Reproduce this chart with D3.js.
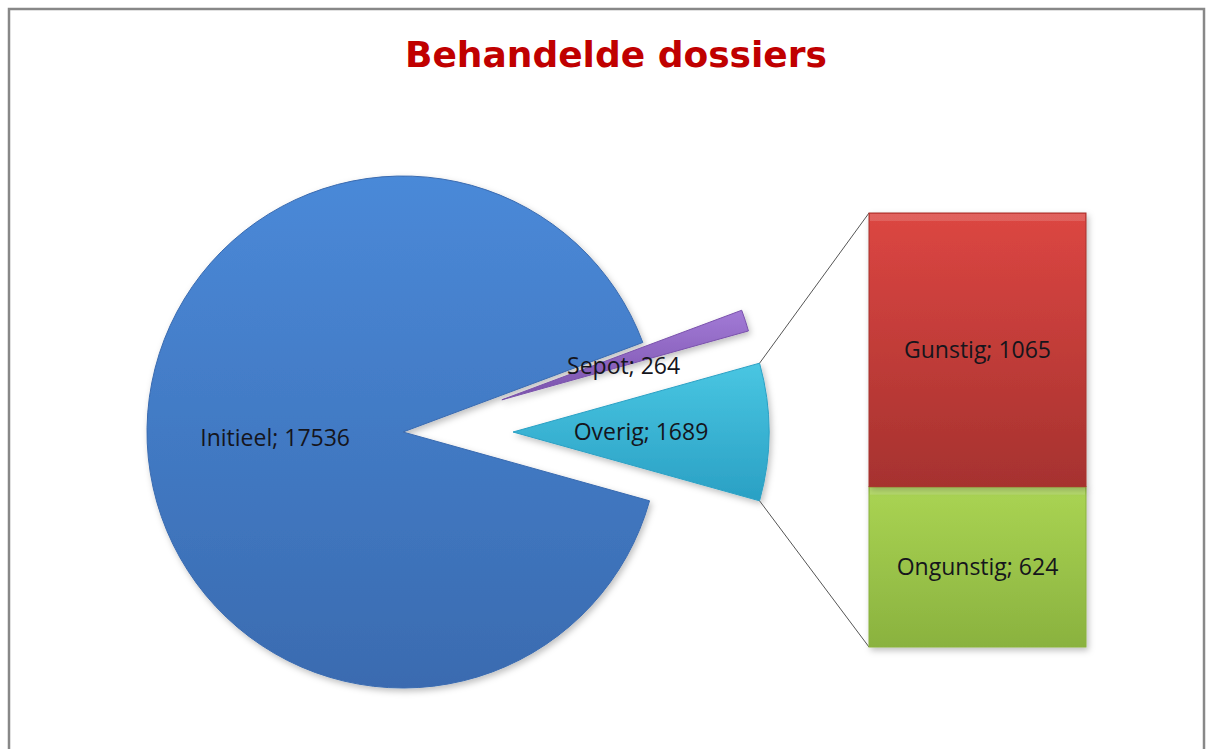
<!DOCTYPE html>
<html>
<head>
<meta charset="utf-8">
<script src="https://cdn.jsdelivr.net/npm/d3@7"></script>
<style>
  body { margin: 0; background: #fff; }
  svg text { font-family: "Open Sans", "Noto Sans", sans-serif; }
</style>
</head>
<body>
<div id="chart"></div>
<script>
const WIDTH = 1206;
const HEIGHT = 749;

// data
const pieCategories = ['Initieel', 'Sepot', 'Overig'];
const pieValues = [17536, 264, 1689];
const barCategories = ['Ongunstig', 'Gunstig'];   // bottom to top
const barValues = [624, 1065];
const titleText = 'Behandelde dossiers';

const pieColors = { Initieel: ['#4a89d8', '#3a6bb0'], Sepot: ['#a27ad6', '#7a52ac'], Overig: ['#49c6e2', '#2aa0c4'] };
const barColors = { Gunstig: ['#dc4642', '#a6322f'], Ongunstig: ['#aad453', '#8ab23f'] };

const SVG = d3.select('#chart')
    .append('svg')
    .attr('width', WIDTH)
    .attr('height', HEIGHT);

const defs = SVG.append('defs');

// vertical gradients for slices and bars
const addGrad = (id, c) => {
    const g = defs.append('linearGradient').attr('id', id)
        .attr('x1', 0).attr('y1', 0).attr('x2', 0).attr('y2', 1);
    g.append('stop').attr('offset', '0%').attr('stop-color', c[0]);
    g.append('stop').attr('offset', '100%').attr('stop-color', c[1]);
};
Object.keys(pieColors).forEach(k => addGrad('g-' + k, pieColors[k]));
Object.keys(barColors).forEach(k => addGrad('g-' + k, barColors[k]));

const shadow = defs.append('filter').attr('id', 'shadow')
    .attr('x', '-10%').attr('y', '-10%').attr('width', '130%').attr('height', '130%');
shadow.append('feDropShadow')
    .attr('dx', 2).attr('dy', 3).attr('stdDeviation', 3)
    .attr('flood-color', '#000').attr('flood-opacity', 0.25);

// frame
SVG.append('rect')
    .attr('x', 9).attr('y', 9)
    .attr('width', 1195).attr('height', 760)
    .attr('fill', 'none')
    .attr('stroke', '#888')
    .attr('stroke-width', 2.5);

// title
SVG.append('text')
    .attr('x', 616).attr('y', 67)
    .attr('text-anchor', 'middle')
    .style('font-family', '"DejaVu Sans", Verdana, sans-serif')
    .style('font-weight', 'bold')
    .style('font-size', '36px')
    .attr('fill', '#c00000')
    .text(titleText);

// pie
const cx = 403, cy = 432, R = 256;
const total = d3.sum(pieValues);
const other = pieValues[pieCategories.indexOf('Overig')];
const start = Math.PI / 2 + Math.PI * other / total;   // Overig centred on the right

const pie = d3.pie().sort(null)
    .startAngle(start).endAngle(start + 2 * Math.PI);
const arcs = pie(pieValues).map((d, i) => Object.assign(d, { name: pieCategories[i] }));

const explode = { Initieel: 0, Sepot: 104, Overig: 110 };
const arc = d3.arc().innerRadius(0).outerRadius(R);
const labelArc = d3.arc().innerRadius(256).outerRadius(0); // centroid at r=128

const offset = d => {
    const a = (d.startAngle + d.endAngle) / 2;
    const e = explode[d.name];
    return [Math.sin(a) * e, -Math.cos(a) * e];
};

const pieG = SVG.append('g').attr('transform', `translate(${cx},${cy})`);

pieG.selectAll('path')
    .data(arcs)
    .enter().append('path')
    .attr('d', arc)
    .attr('transform', d => `translate(${offset(d)})`)
    .attr('fill', d => `url(#g-${d.name})`)
    .attr('stroke', d => pieColors[d.name][1])
    .attr('stroke-width', 1)
    .attr('filter', 'url(#shadow)');

// bar of Overig
const barX = 869, barW = 217;
const y = d3.scaleLinear().domain([0, d3.sum(barValues)]).range([647, 213]);
const stacked = barValues.map((v, i) => ({
    name: barCategories[i], value: v,
    y0: d3.sum(barValues.slice(0, i)), y1: d3.sum(barValues.slice(0, i + 1))
}));

// connector lines from the Overig slice to the bar
const ov = arcs.find(d => d.name === 'Overig');
const ovOff = offset(ov);
const corner = a => [cx + ovOff[0] + Math.sin(a) * R, cy + ovOff[1] - Math.cos(a) * R];
const c1 = corner(ov.startAngle), c2 = corner(ov.endAngle);
SVG.append('g').selectAll('line')
    .data([[c1, [barX, y(d3.sum(barValues))]], [c2, [barX, y(0)]]])
    .enter().append('line')
    .attr('x1', d => d[0][0]).attr('y1', d => d[0][1])
    .attr('x2', d => d[1][0]).attr('y2', d => d[1][1])
    .attr('stroke', '#555')
    .attr('stroke-width', 1);

const barG = SVG.append('g');
barG.selectAll('rect.bar')
    .data(stacked)
    .enter().append('rect')
    .attr('class', 'bar')
    .attr('x', barX)
    .attr('y', d => y(d.y1))
    .attr('width', barW)
    .attr('height', d => y(d.y0) - y(d.y1))
    .attr('fill', d => `url(#g-${d.name})`)
    .attr('stroke', d => barColors[d.name][1])
    .attr('stroke-width', 1)
    .attr('filter', 'url(#shadow)');

// soft bevel along the top edge of each bar segment
barG.selectAll('rect.bevel')
    .data(stacked)
    .enter().append('rect')
    .attr('class', 'bevel')
    .attr('x', barX + 1)
    .attr('y', d => y(d.y1) + 1)
    .attr('width', barW - 2)
    .attr('height', 7)
    .attr('fill', '#fff')
    .attr('opacity', 0.15);

// labels
pieG.selectAll('text')
    .data(arcs)
    .enter().append('text')
    .attr('transform', d => {
        const o = offset(d), c = labelArc.centroid(d);
        return `translate(${c[0] + o[0]},${c[1] + o[1] + (d.name === 'Sepot' ? 6 : 0)})`;
    })
    .attr('text-anchor', 'middle')
    .attr('dy', '0.35em')
    .style('font-size', '23px')
    .attr('fill', '#15151c')
    .text(d => `${d.name}; ${d.value}`);

barG.selectAll('text')
    .data(stacked)
    .enter().append('text')
    .attr('x', barX + barW / 2)
    .attr('y', d => (y(d.y0) + y(d.y1)) / 2)
    .attr('text-anchor', 'middle')
    .attr('dy', '0.35em')
    .style('font-size', '23px')
    .attr('fill', '#15151c')
    .text(d => `${d.name}; ${d.value}`);
</script>
</body>
</html>
